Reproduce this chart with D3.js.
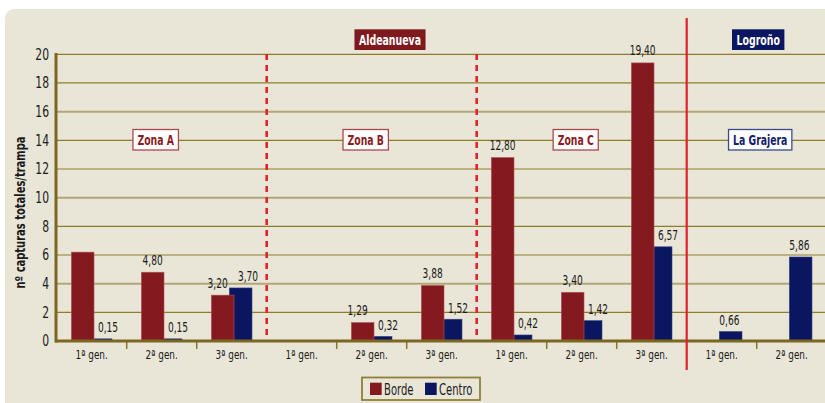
<!DOCTYPE html>
<html><head><meta charset="utf-8">
<script src="https://cdn.jsdelivr.net/npm/d3@7"></script>
<style>
html,body{margin:0;padding:0;background:#fff;}
svg text{font-family:"DejaVu Sans Condensed","Liberation Sans Narrow",sans-serif;}
</style></head>
<body>
<svg id="c" width="825" height="403"></svg>
<script>
const categories = ["1ª gen.","2ª gen.","3ª gen.","1ª gen.","2ª gen.","3ª gen.","1ª gen.","2ª gen.","3ª gen.","1ª gen.","2ª gen."];
const bordeValues  = [6.20, 4.80, 3.20, null, 1.29, 3.88, 12.80, 3.40, 19.40, null, null];
const centroValues = [0.15, 0.15, 3.70, null, 0.32, 1.52, 0.42, 1.42, 6.57, 0.66, 5.86];
const bordeLabelHidden = [0];
const yTicks = [0,2,4,6,8,10,12,14,16,18,20];
const zones = [
  {name:"Zona A", from:0, to:3, color:"#8b1c24", border:"#a9494f"},
  {name:"Zona B", from:3, to:6, color:"#8b1c24", border:"#a9494f"},
  {name:"Zona C", from:6, to:9, color:"#8b1c24", border:"#a9494f"},
  {name:"La Grajera", from:9, to:11, color:"#14206a", border:"#3a4a8a"}
];
const regions = [
  {name:"Aldeanueva", from:0, to:9, fill:"#7e1a1e"},
  {name:"Logroño", from:9, to:11, fill:"#0b1660"}
];
const seriesNames = ["Borde","Centro"];
const colBorde = "#841a1f", colCentro = "#0b1660";

const svg = d3.select("#c");
svg.append("rect").attr("x",5).attr("y",9).attr("width",840).attr("height",420).attr("rx",9).attr("fill","#e9e6d8");

function ctext(parent, x, y, str, sx) {
  return parent.append("text").attr("transform",`translate(${x},${y}) scale(${sx},1)`).text(str);
}

const x0 = 56.7, bw = 70;
const x = d3.scaleBand().domain(d3.range(categories.length)).range([x0, x0 + bw*categories.length]).padding(0);
const y = d3.scaleLinear().domain([0,20]).range([341,54.3]);
const fmt = v => d3.format(".2f")(v).replace(".", ",");

// gridlines
svg.append("g").selectAll("line").data(yTicks.filter(t=>t>0)).join("line")
  .attr("x1",57).attr("x2",825)
  .attr("y1",d=>y(d)).attr("y2",d=>y(d))
  .attr("stroke",d=> (d%6===4) ? "#b3a676" : "#8e7c2a")
  .attr("stroke-width",d=> (d%6===4) ? 2 : 1.2);

// y axis
const ysx = 0.8;
const yAxis = d3.axisLeft(y).tickValues(yTicks).tickSize(0).tickPadding(7);
const gy = svg.append("g").attr("transform","translate(56,0)").call(yAxis);
gy.select(".domain").remove();
gy.selectAll("text").attr("font-size",15).attr("fill","#1a1a1a")
  .style("font-family",'"DejaVu Sans Condensed",sans-serif')
  .attr("x",-7/ysx).attr("transform",`scale(${ysx},1)`);

// x axis
const xsx = 0.76;
const xAxis = d3.axisBottom(x).tickFormat(i=>categories[i]).tickSize(0).tickPadding(9);
const gx = svg.append("g").attr("transform","translate(0,341)").call(xAxis);
gx.select(".domain").remove();
gx.selectAll("text").attr("font-size",13).attr("fill","#1a1a1a")
  .style("font-family",'"DejaVu Sans Condensed",sans-serif')
  .attr("transform",`scale(${xsx},1)`);
const bounds = d3.range(1, categories.length).filter(b=>b!==3 && b!==6 && b!==9);
svg.append("g").selectAll("line").data(bounds).join("line")
  .attr("x1",d=>x(d)).attr("x2",d=>x(d)).attr("y1",341).attr("y2",349)
  .attr("stroke","#8a7626").attr("stroke-width",1.5);

// bars
const g = svg.append("g");
g.selectAll("rect.c").data(centroValues.map((v,i)=>({v,i})).filter(d=>d.v!=null)).join("rect")
  .attr("class","c")
  .attr("x",d=>x(d.i)+0.466*bw).attr("width",0.324*bw)
  .attr("y",d=>y(d.v)).attr("height",d=>y(0)-y(d.v))
  .attr("fill",colCentro).attr("stroke","#3a4480").attr("stroke-width",0.6);
g.selectAll("rect.b").data(bordeValues.map((v,i)=>({v,i})).filter(d=>d.v!=null)).join("rect")
  .attr("class","b")
  .attr("x",d=>x(d.i)+0.209*bw).attr("width",0.324*bw)
  .attr("y",d=>y(d.v)).attr("height",d=>y(0)-y(d.v))
  .attr("fill",colBorde).attr("stroke","#b0585c").attr("stroke-width",0.6);

// axis lines
svg.append("line").attr("x1",56).attr("x2",56).attr("y1",53).attr("y2",342.5).attr("stroke","#7b6720").attr("stroke-width",3);
svg.append("line").attr("x1",55).attr("x2",825).attr("y1",341).attr("y2",341).attr("stroke","#7b6720").attr("stroke-width",3);

// value labels
const vsx = 0.72;
const lab = svg.append("g").attr("font-size",14).attr("fill","#1a1a1a").attr("text-anchor","middle");
bordeValues.forEach((v,i)=>{
  if(v==null || bordeLabelHidden.includes(i)) return;
  const c = centroValues[i];
  const shift = (c!=null && Math.abs(c - v) < 1) ? -5 : 0;
  ctext(lab, x(i)+0.371*bw+shift, y(v)-7.5, fmt(v), vsx);
});
centroValues.forEach((v,i)=>{
  if(v==null) return;
  const cx = bordeValues[i]==null ? x(i)+0.61*bw : x(i)+0.733*bw;
  ctext(lab, cx, y(v)-6.5, fmt(v), vsx);
});

// separators
[3,6].forEach(b=>{
  svg.append("line").attr("x1",x(b)).attr("x2",x(b)).attr("y1",54).attr("y2",340)
    .attr("stroke","#e3202c").attr("stroke-width",2.6).attr("stroke-dasharray","6,5");
});
svg.append("line").attr("x1",x(9)).attr("x2",x(9)).attr("y1",18).attr("y2",370)
  .attr("stroke","#e3202c").attr("stroke-width",2.2);

// region header boxes
regions.forEach((r,k)=>{
  const cx = (x(r.from)+x(r.to-1)+bw)/2 + (k===0 ? 18.3 : 1.5);
  const t = ctext(svg, cx, 44.5, r.name, 0.72).attr("text-anchor","middle")
    .attr("font-size",14.5).attr("font-weight","bold").attr("fill","#fff");
  const w = t.node().getComputedTextLength()*0.72;
  svg.insert("rect", () => t.node()).attr("x",cx-w/2-4.5).attr("y",29.3).attr("width",w+9).attr("height",20.7).attr("fill",r.fill);
});

// zone boxes
zones.forEach((z,k)=>{
  const mid = (x(z.from)+x(z.to-1)+bw)/2 + (k===3 ? 3.5 : -6);
  const t = ctext(svg, mid, 145, z.name, 0.74).attr("text-anchor","middle")
    .attr("font-size",14).attr("font-weight","bold").attr("fill",z.color);
  const w = t.node().getComputedTextLength()*0.74;
  svg.insert("rect", () => t.node()).attr("x",mid-w/2-4.5).attr("y",129.5).attr("width",w+9).attr("height",20.5)
    .attr("fill","#fff").attr("stroke",z.border).attr("stroke-width",1.3);
});

// y axis title
svg.append("text").attr("transform","translate(25,212.5) rotate(-90)").attr("text-anchor","middle")
  .attr("font-size",14).attr("font-weight","bold").attr("fill","#1a1a1a")
  .attr("textLength",152).attr("lengthAdjust","spacingAndGlyphs").text("nº capturas totales/trampa");

// legend
const lg = svg.append("g");
lg.append("rect").attr("x",362).attr("y",377.5).attr("width",118).attr("height",22.5).attr("fill","none").attr("stroke","#8f7f38").attr("stroke-width",1.8);
const items = [{n:seriesNames[0],c:colBorde,x:370},{n:seriesNames[1],c:colCentro,x:425}];
items.forEach(it=>{
  lg.append("rect").attr("x",it.x).attr("y",382.7).attr("width",11.7).attr("height",12.3).attr("fill",it.c);
  ctext(lg, it.x+14, 394.5, it.n, 0.72).attr("font-size",15.5).attr("fill","#1a1a1a");
});
</script>
</body></html>
